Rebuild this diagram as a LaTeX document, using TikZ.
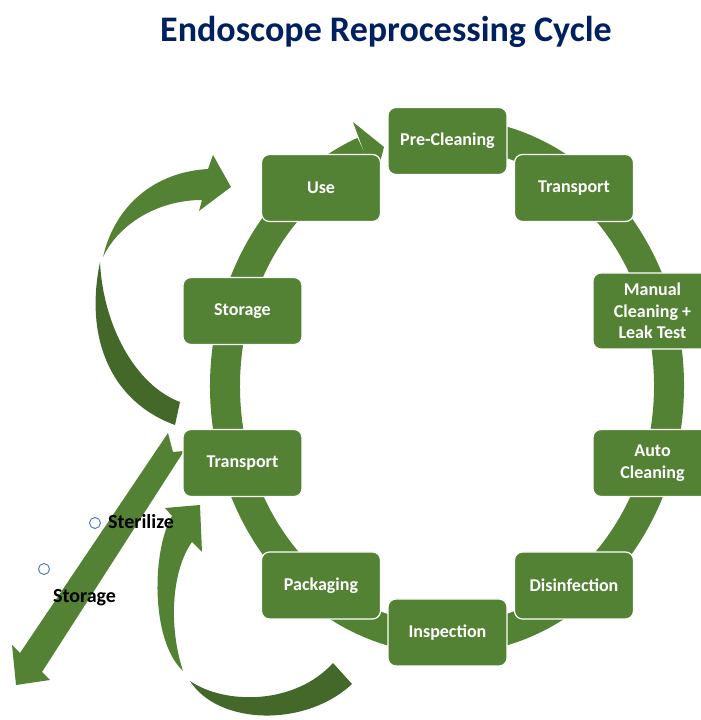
\documentclass[tikz,border=0pt]{standalone}
\usepackage{fontspec}
\setmainfont{Carlito}
\usepackage{xcolor}

\definecolor{stagegreen}{RGB}{84,130,53}
\definecolor{shadegreen}{RGB}{67,104,42}
\definecolor{titleblue}{RGB}{0,32,96}
\definecolor{bulletblue}{RGB}{68,114,196}

\begin{document}
\begin{tikzpicture}[x=1pt, y=1pt,
	stage/.style={rectangle, rounded corners=8pt, fill=stagegreen, draw=white, line width=1.2pt,
		minimum width=119pt, minimum height=67pt, inner sep=2pt, align=center, text=white,
		font=\fontsize{18}{21.6}\selectfont\bfseries},
	sidetext/.style={anchor=base west, inner sep=0pt, font=\fontsize{20}{24}\selectfont\bfseries},
	bullet/.style={circle, draw=bulletblue, line width=0.9pt, minimum size=11pt, inner sep=0pt}]

	\useasboundingbox (0, 0) rectangle (701, 720);

	\node[anchor=base, text=titleblue, font=\fontsize{36}{40}\selectfont\bfseries] (title) at (386, 678) {Endoscope Reprocessing Cycle};

	% Draw the ring with its arrow head
	\coordinate (C) at (447, 334);
	\draw[stagegreen, line width=30pt] (C) ++(85:222pt and 253pt) arc[start angle=85, end angle=-248, x radius=222pt, y radius=253pt];
	\coordinate (headtop) at (353, 598);
	\coordinate (headtip) at (384, 573);
	\coordinate (headlow) at (375, 538);
	\fill[stagegreen] (headtop) -- (headtip) -- (headlow) -- cycle;

	% Draw the curved arrow on the left
	\fill[shadegreen] (100, 458) .. controls (84, 380) and (112, 318) .. (175, 295)
		-- (180, 318) .. controls (135, 335) and (103, 395) .. (100, 458) -- cycle;
	\fill[stagegreen] (103, 463) .. controls (115, 515) and (155, 548) .. (208, 551)
		-- (213, 565) -- (231, 533) -- (199, 509) -- (202, 520)
		.. controls (160, 520) and (120, 498) .. (103, 463) -- cycle;

	% Draw the curved arrow at the bottom
	\fill[shadegreen] (190, 39) .. controls (218, -5) and (305, -8) .. (352, 36)
		-- (333, 57) .. controls (295, 15) and (225, 15) .. (190, 39) -- cycle;
	\fill[stagegreen] (183, 49) .. controls (150, 80) and (152, 170) .. (172, 204)
		-- (165, 212) -- (200, 215) -- (202, 168) -- (192, 178)
		.. controls (172, 150) and (168, 95) .. (183, 49) -- cycle;

	% Draw the straight arrow
	\fill[stagegreen] (168, 287) -- (173, 268) -- (184, 269) -- (42, 48) -- (50, 40)
		-- (16, 35) -- (12, 75) -- (20, 67) -- cycle;

	% Draw the stages
	\node[stage] (pre) at (447.5, 579) {Pre-Cleaning};
	\node[stage] (transA) at (574, 532) {Transport};
	\node[stage, minimum height=76pt] (manual) at (652.5, 409) {Manual\\Cleaning +\\Leak Test};
	\node[stage] (auto) at (652.5, 257) {Auto\\Cleaning};
	\node[stage] (disinf) at (574, 134.5) {Disinfection};
	\node[stage] (insp) at (447.5, 87.5) {Inspection};
	\node[stage] (pack) at (321, 134.5) {Packaging};
	\node[stage] (transB) at (242.5, 257) {Transport};
	\node[stage] (stor) at (242.5, 409) {Storage};
	\node[stage] (use) at (321, 532) {Use};

	% Draw the side notes
	\node[bullet] (b1) at (95, 197) {};
	\node[sidetext] (steril) at (108, 191) {Sterilize};
	\node[bullet] (b2) at (44, 151) {};
	\node[sidetext] (storage) at (53, 117) {Storage};
\end{tikzpicture}
\end{document}
